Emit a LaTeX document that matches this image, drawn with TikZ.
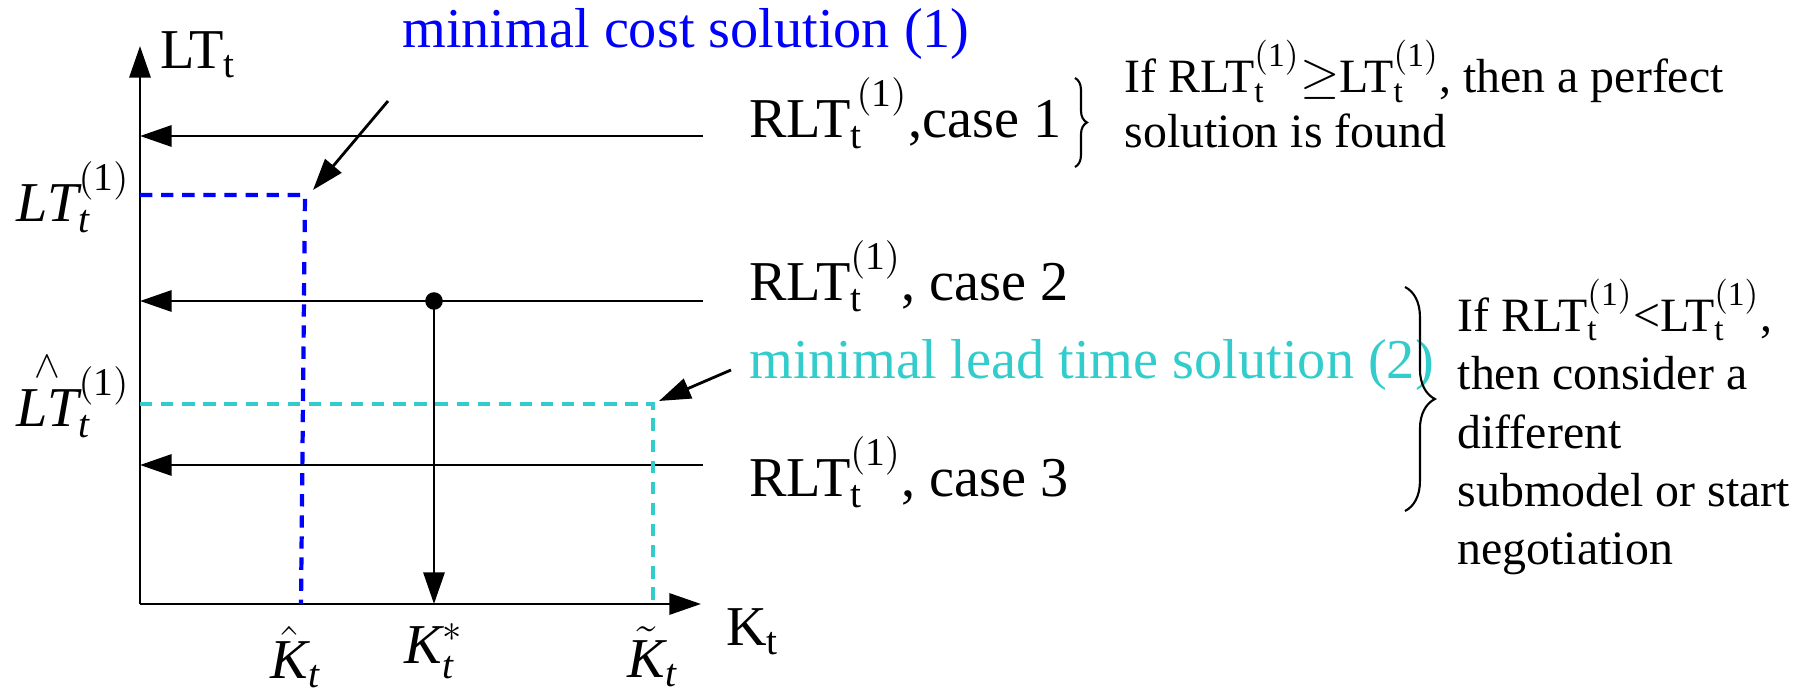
\documentclass[tikz,border=0pt]{standalone}
\usepackage{amsmath}
\usepackage{fontspec}
\setmainfont{Liberation Serif}
\usepackage{tikz}
\usetikzlibrary{
  arrows.meta,
  positioning,
  calc,
  decorations.pathreplacing
}
\definecolor{leadcyan}{RGB}{51,204,204}

\begin{document}
\begin{tikzpicture}[x=0.01cm, y=-0.01cm,
			lb/.style={font=\fontsize{16}{19}\selectfont, inner sep=1pt},
			nt/.style={font=\fontsize{13.6}{16.6}\selectfont, align=left, anchor=west, inner sep=0pt},
			ed/.style={line width=0.8pt, -{Triangle[length=9pt,width=6pt]}},
			bd/.style={blue, line width=1.2pt, dash pattern=on 3.5pt off 2.5pt},
			cd/.style={leadcyan, line width=1.2pt, dash pattern=on 3.5pt off 2.5pt},
			br/.style={decorate, decoration={brace, amplitude=#1}, line width=0.6pt}
			]
			\useasboundingbox (0,0) rectangle (1802,691);
			% axes
			\coordinate (O)    at (140,604);
			\coordinate (ytop) at (140,46);
			\coordinate (xend) at (701,604);
			\draw[ed] (O)--(ytop); \draw[ed] (O)--(xend);
			\node[lb, anchor=west] (ylab) at (156,55) {LT$_{\mathrm t}$};
			\node[lb, anchor=west] (xlab) at (722,632) {K$_{\mathrm t}$};
			% cases
			\coordinate (c1r) at (703,136); \coordinate (c1l) at (140,136);
			\coordinate (c2r) at (703,301); \coordinate (c2l) at (140,301);
			\coordinate (c3r) at (703,465); \coordinate (c3l) at (140,465);
			\draw[ed] (c1r)--(c1l); \draw[ed] (c2r)--(c2l); \draw[ed] (c3r)--(c3l);
			\node[lb, anchor=west] (cs1) at (745,113) {RLT$_{\mathrm t}^{\,\mathrm{(1)}}$,case 1};
			\node[lb, anchor=west] (cs2) at (745,276) {RLT$_{\mathrm t}^{\mathrm{(1)}}$, case 2};
			\node[lb, anchor=west] (cs3) at (745,472) {RLT$_{\mathrm t}^{\mathrm{(1)}}$, case 3};
			\node[circle, fill, inner sep=0pt, minimum size=5pt] (kdot) at (434,301) {};
			\coordinate (kfoot) at (434,604);
			\draw[ed] (kdot.center)--(kfoot);
			% minimal cost solution
			\coordinate (lc)  at (305,195);
			\coordinate (lcy) at (140,195);
			\coordinate (lcx) at (301,604);
			\draw[bd] (lcy)--(lc)--(lcx);
			\node[lb, blue] (mcs) at (686,34) {minimal cost solution (1)};
			\coordinate (mcsa)  at (388,101);
			\coordinate (lctip) at (313,190);
			\draw[ed] (mcsa)--(lctip);
			% minimal lead time solution
			\coordinate (ll)  at (653,404);
			\coordinate (lly) at (140,404);
			\coordinate (llx) at (653,604);
			\draw[cd] (lly)--(ll)--(llx);
			\node[lb, leadcyan, anchor=west] (mlt) at (745,365) {minimal lead time solution (2)};
			\coordinate (mlta)  at (731,370);
			\coordinate (lltip) at (659,401);
			\draw[ed] (mlta)--(lltip);
			% axis values
			\node[lb] (lt1) at (73,197) {$\mathit{LT}_{\mathit t}^{\mathrm{(1)}}$};
			\node[lb] (lth) at (73,402)
			{${\smash{\overset{\wedge}{\mathit{LT}}}\vphantom{\mathit{LT}}}_{\mathit t}^{\mathrm{(1)}}$};
			\node[lb] (kh) at (296,657) {$\hat{\mathit K}_{\mathit t}$};
			\node[lb] (ks) at (434,651) {$\mathit K_{\mathit t}^{*}$};
			\node[lb] (kt) at (653,657) {$\tilde{\mathit K}_{\mathit t}$};
			% notes
			\coordinate (b1t) at (1075,78);  \coordinate (b1b) at (1075,167);
			\coordinate (b2t) at (1405,287); \coordinate (b2b) at (1405,511);
			\draw[br=3.4pt] (b1t)--(b1b); \draw[br=8.5pt] (b2t)--(b2b);
			\node[nt, font=\fontsize{13.6}{15.4}\selectfont] (n1) at (1124,94)
			{If RLT$_{\mathrm t}^{\mathrm{(1)}}{\geq}$LT$_{\mathrm t}^{\mathrm{(1)}}$, then a perfect\\
				solution is found};
			\node[nt] (n2) at (1457,427)
			{If RLT$_{\mathrm t}^{\mathrm{(1)}}$<LT$_{\mathrm t}^{\mathrm{(1)}}$,\\
				then consider a\\ different\\ submodel or start\\ negotiation};
	\end{tikzpicture}
\end{document}
